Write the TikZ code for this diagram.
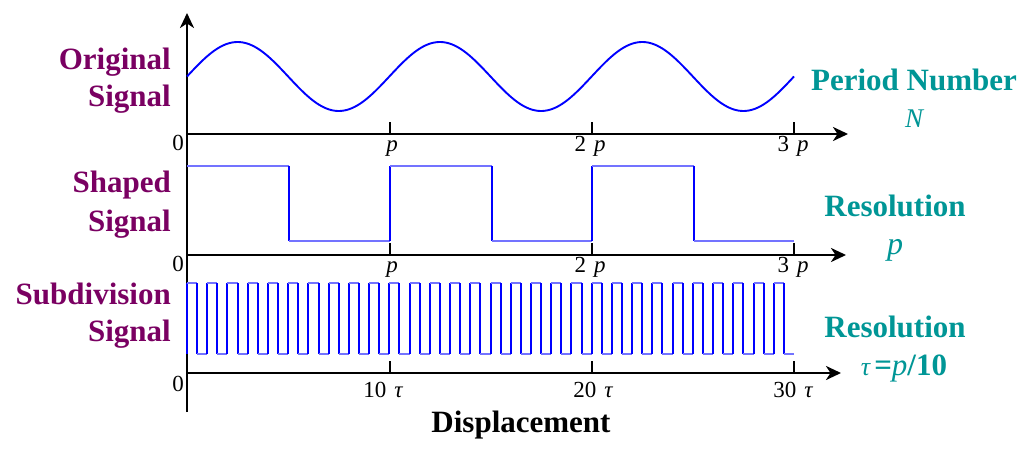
\documentclass[tikz,border=0pt]{standalone}
\usepackage{fontspec}
\newfontfamily\tickfont{Liberation Serif}
\usetikzlibrary{arrows.meta}
\definecolor{lblpurple}{RGB}{122,0,98}
\definecolor{lblteal}{RGB}{0,150,150}
\definecolor{sigblue}{RGB}{0,0,255}
\definecolor{lightblue}{RGB}{115,115,255}
\tikzset{
  axis/.style={line width=2.8pt, black},
  axisarrow/.style={axis, -{Stealth[length=15pt,width=14pt,inset=4.5pt]}},
  tickmark/.style={line width=1.8pt, black},
  ticklbl/.style={anchor=base, inner sep=0pt, font=\tickfont\fontsize{23}{25}\selectfont},
  leftlbl/.style={anchor=base east, inner sep=0pt, text=lblpurple, font=\tickfont\bfseries\fontsize{31}{34}\selectfont},
  rightlbl/.style={anchor=base, inner sep=0pt, text=lblteal, font=\tickfont\bfseries\fontsize{31}{34}\selectfont},
  sine/.style={line width=1.9pt, sigblue},
  hor/.style={line width=1.4pt, lightblue},
  edgeline/.style={line width=2.8pt, sigblue},
  subhor/.style={line width=1.1pt, lightblue},
  subedge/.style={line width=2pt, sigblue},
}
\begin{document}
\begin{tikzpicture}[x=1pt,y=-1pt]
\useasboundingbox[fill=white] (0,0) rectangle (1024,449);
% axes
\draw[axisarrow] (187,412) -- (187,13);
\draw[axisarrow] (187,134) -- (848,134);
\draw[axisarrow] (187,255) -- (846,255);
\draw[axisarrow] (187,373) -- (841,373);
% ticks
\foreach \xx in {390,592,794} {
  \draw[tickmark] (\xx,134) -- (\xx,122);
  \draw[tickmark] (\xx,255) -- (\xx,243);
  \draw[tickmark] (\xx,373) -- (\xx,361);
}
% original signal
\draw[sine] plot[domain=0:607, samples=240, smooth] ({187+\x}, {76.5 - 34.5*sin(1.77928*\x)});
% shaped signal
\draw[hor] (187,166) -- (289,166);
\draw[edgeline] (289,166) -- (289,241);
\draw[hor] (289,241) -- (390,241);
\draw[edgeline] (390,241) -- (390,166);
\draw[hor] (390,166) -- (492,166);
\draw[edgeline] (492,166) -- (492,241);
\draw[hor] (492,241) -- (592,241);
\draw[edgeline] (592,241) -- (592,166);
\draw[hor] (592,166) -- (694,166);
\draw[edgeline] (694,166) -- (694,241);
\draw[hor] (694,241) -- (794,241);
% subdivision signal
\foreach \k in {0,...,29} {
  \pgfmathsetmacro\xa{187+\k*20.233}
  \pgfmathsetmacro\xb{\xa+10.117}
  \pgfmathsetmacro\xc{\xa+20.233}
  \draw[subedge] (\xa,354) -- (\xa,283);
  \draw[subhor] (\xa,283) -- (\xb,283);
  \draw[subedge] (\xb,283) -- (\xb,354);
  \draw[subhor] (\xb,354) -- (\xc,354);
}
% zero labels
\node[ticklbl, anchor=base east] (z1) at (184,150) {0};
\node[ticklbl, anchor=base east] (z2) at (184,271) {0};
\node[ticklbl, anchor=base east] (z3) at (184,391) {0};
% tick labels
\node[ticklbl] (p1) at (392,152) {\itshape p};
\node[ticklbl] (p2) at (590,152) {2\hspace{8pt}\itshape p};
\node[ticklbl] (p3) at (793,152) {3\hspace{8pt}\itshape p};
\node[ticklbl] (q1) at (392,272) {\itshape p};
\node[ticklbl] (q2) at (590,272) {2\hspace{8pt}\itshape p};
\node[ticklbl] (q3) at (793,272) {3\hspace{8pt}\itshape p};
\node[ticklbl] (t1) at (383,397) {10\hspace{8pt}\itshape τ};
\node[ticklbl] (t2) at (593,397) {20\hspace{8pt}\itshape τ};
\node[ticklbl] (t3) at (793,397) {30\hspace{8pt}\itshape τ};
% left labels
\node[leftlbl] (o1) at (171,70) {Original};
\node[leftlbl] (o2) at (171,107) {Signal};
\node[leftlbl] (s1) at (171,193) {Shaped};
\node[leftlbl] (s2) at (171,231) {Signal};
\node[leftlbl] (d1) at (171,304) {Subdivision};
\node[leftlbl] (d2) at (171,341) {Signal};
% right labels
\node[rightlbl] (r1) at (914,91) {Period Number};
\node[rightlbl, font=\tickfont\itshape\fontsize{27}{29}\selectfont] (r2) at (914,128) {N};
\node[rightlbl] (r3) at (895,216) {Resolution};
\node[rightlbl, font=\tickfont\itshape\fontsize{32}{34}\selectfont] (r4) at (895,254) {p};
\node[rightlbl] (r5) at (895,337) {Resolution};
\node[rightlbl] (r6) at (904,375) {{\mdseries\itshape\fontsize{26}{28}\selectfont τ}\hspace{4pt}={\mdseries\itshape p}/10};
% bottom label
\node[anchor=base, inner sep=0pt, font=\tickfont\bfseries\fontsize{31}{34}\selectfont] (disp) at (521,432) {Displacement};
\end{tikzpicture}
\end{document}
